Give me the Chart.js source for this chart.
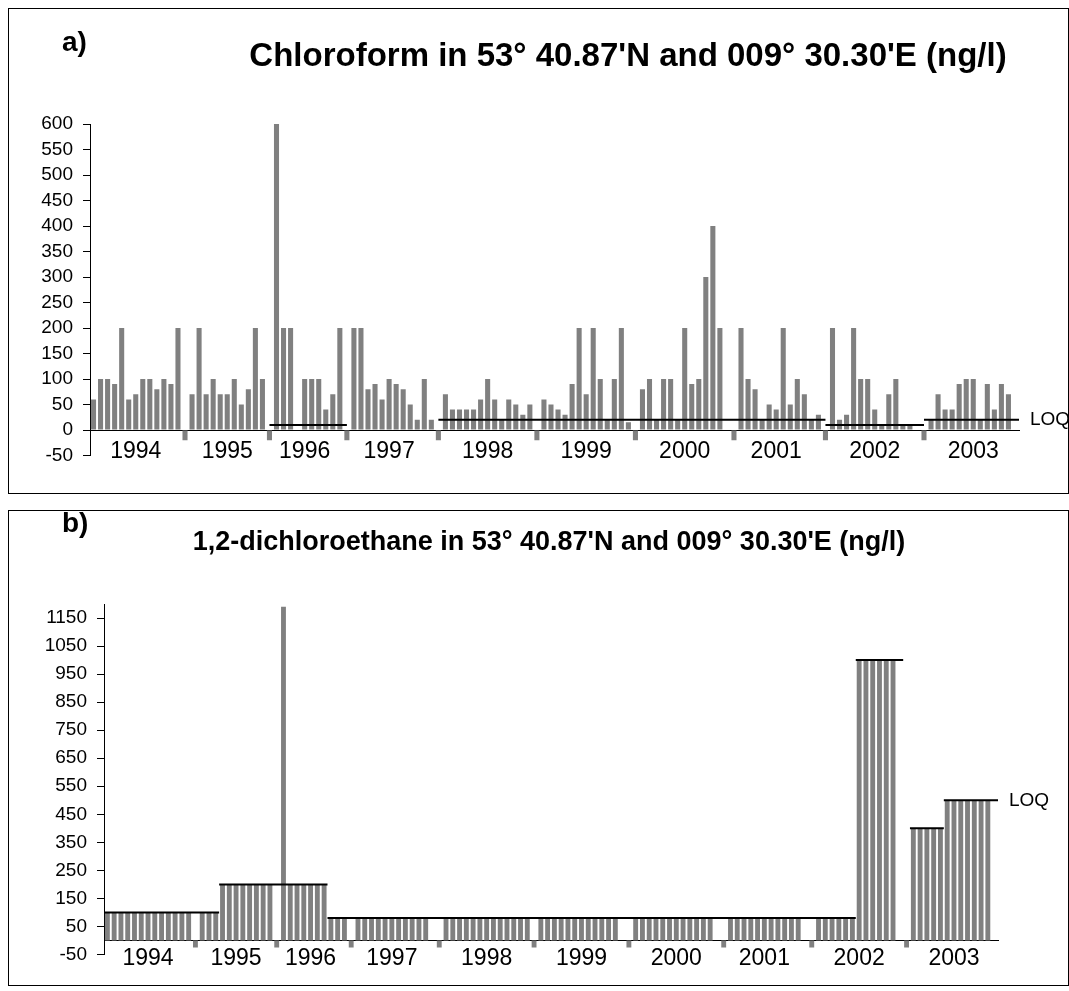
<!DOCTYPE html>
<html>
<head>
<meta charset="utf-8">
<title>Chloroform and 1,2-dichloroethane</title>
<script src="https://cdn.jsdelivr.net/npm/chart.js@4.4.1/dist/chart.umd.min.js"></script>
<style>
  body { margin: 0; background: #fff; font-family: "Liberation Sans", Arial, sans-serif; }
  .box { position: absolute; left: 8px; width: 1061px; border: 1px solid #000; box-sizing: border-box; }
  #boxA { top: 8px; height: 486px; }
  #boxB { top: 510px; height: 476px; }
  .box canvas { position: absolute; left: 0; top: 0; }
  .tag, .title { position: absolute; font-weight: bold; white-space: nowrap; line-height: 1; color: #000; }
  .tag { font-size: 28px; left: 53px; }
  .title { transform: translateX(-50%); }
</style>
</head>
<body>
<div class="box" id="boxA">
  <canvas id="chartA" width="1059" height="484"></canvas>
  <div class="tag" style="top:19px">a)</div>
  <div class="title" style="left:619px; top:29px; font-size:33px">Chloroform in 53° 40.87'N and 009° 30.30'E (ng/l)</div>
</div>
<div class="box" id="boxB">
  <canvas id="chartB" width="1059" height="474"></canvas>
  <div class="tag" style="top:-2px">b)</div>
  <div class="title" style="left:540px; top:17px; font-size:27px">1,2-dichloroethane in 53° 40.87'N and 009° 30.30'E (ng/l)</div>
</div>

<script>
const years = ['1994', '1995', '1996', '1997', '1998', '1999', '2000', '2001', '2002', '2003'];

// chloroform, one value per sample, null = no bar
const chloroform = [
  [60, 100, 100, 90, 200, 60, 70, 100, 100, 80, 100, 90, 200],
  [70, 200, 70, 100, 70, 70, 100, 50, 80, 200, 100],
  [600, 200, 200, null, 100, 100, 100, 40, 70, 200],
  [200, 200, 80, 90, 60, 100, 90, 80, 50, 20, 100, 20],
  [70, 40, 40, 40, 40, 60, 100, 60, 20, 60, 50, 30, 50],
  [60, 50, 40, 30, 90, 200, 70, 200, 100, 20, 100, 200, 15],
  [80, 100, 20, 100, 100, 20, 200, 90, 100, 300, 400, 200, null],
  [200, 100, 80, 20, 50, 40, 200, 50, 100, 70, 20, 30],
  [200, 20, 30, 200, 100, 100, 40, 10, 70, 100, 10, 10, null],
  [20, 70, 40, 40, 90, 100, 100, 20, 90, 40, 90, 70, null]
];
// LOQ for chloroform, one per year
const chloroformLoq = [null, null, 10, null, 20, 20, 20, 20, 10, 20];

const dichloroethane = [
  [100, 100, 100, 100, 100, 100, 100, 100, 100, 100, 100, 100, 100],
  [100, 100, 100, 200, 200, 200, 200, 200, 200, 200, 200],
  [1190, 200, 200, 200, 200, 200, 200, 80, 80, 80],
  [80, 80, 80, 80, 80, 80, 80, 80, 80, 80, 80, null],
  [80, 80, 80, 80, 80, 80, 80, 80, 80, 80, 80, 80, 80],
  [80, 80, 80, 80, 80, 80, 80, 80, 80, 80, 80, 80, null],
  [80, 80, 80, 80, 80, 80, 80, 80, 80, 80, 80, 80, null],
  [80, 80, 80, 80, 80, 80, 80, 80, 80, 80, 80, null],
  [80, 80, 80, 80, 80, 80, 1000, 1000, 1000, 1000, 1000, 1000, null],
  [400, 400, 400, 400, 400, 500, 500, 500, 500, 500, 500, 500, null]
];
// LOQ for 1,2-dichloroethane, one per sample
const dichloroethaneLoq = [
  [100, 100, 100, 100, 100, 100, 100, 100, 100, 100, 100, 100, 100],
  [100, 100, 100, 200, 200, 200, 200, 200, 200, 200, 200],
  [200, 200, 200, 200, 200, 200, 200, 80, 80, 80],
  [80, 80, 80, 80, 80, 80, 80, 80, 80, 80, 80, 80],
  [80, 80, 80, 80, 80, 80, 80, 80, 80, 80, 80, 80, 80],
  [80, 80, 80, 80, 80, 80, 80, 80, 80, 80, 80, 80, 80],
  [80, 80, 80, 80, 80, 80, 80, 80, 80, 80, 80, 80, 80],
  [80, 80, 80, 80, 80, 80, 80, 80, 80, 80, 80, 80],
  [80, 80, 80, 80, 80, 80, 1000, 1000, 1000, 1000, 1000, 1000, 1000],
  [400, 400, 400, 400, 400, 500, 500, 500, 500, 500, 500, 500, 500]
];

const yTicksA = [-50, 0, 50, 100, 150, 200, 250, 300, 350, 400, 450, 500, 550, 600];
const yTicksB = [-50, 50, 150, 250, 350, 450, 550, 650, 750, 850, 950, 1050, 1150];
const yearMarkA = -20;   // small bar below zero between years
const yearMarkB = -25;

const FONT = '"Liberation Sans", Arial, sans-serif';
const GREY = '#808080';

// flatten the per-year lists, one empty slot between years for the year mark
function flatten(groups) {
  const labels = [], values = [], spans = [];
  groups.forEach((g, i) => {
    if (i > 0) { labels.push(''); values.push(null); }
    const start = values.length;
    g.forEach(v => { labels.push(''); values.push(v); });
    spans.push({ start: start, end: values.length - 1 });
  });
  spans.forEach((s, i) => { labels[Math.floor((s.start + s.end) / 2)] = years[i]; });
  return { labels, values, spans };
}

function yearMarks(flat, v) {
  const out = flat.values.map(() => null);
  flat.spans.forEach((s, i) => { if (i > 0) out[s.start - 1] = v; });
  return out;
}

// LOQ per year: line from year mark to year mark
function loqPerYear(flat, loq) {
  const n = flat.values.length, runs = [];
  flat.spans.forEach((s, i) => {
    if (loq[i] == null) return;
    runs.push({
      from: i === 0 ? -0.5 : s.start - 1,
      to: i === flat.spans.length - 1 ? n - 0.5 : s.end + 1,
      value: loq[i]
    });
  });
  return runs;
}

// LOQ per sample: runs of equal values, slot edge to slot edge
function loqPerSample(loqFlat) {
  const runs = [];
  let cur = null, first = null, last = null;
  loqFlat.forEach((v, i) => {
    if (v == null) return;
    if (v !== cur) {
      if (cur != null) runs.push({ from: first - 0.5, to: last + 0.5, value: cur });
      cur = v; first = i;
    }
    last = i;
  });
  if (cur != null) runs.push({ from: first - 0.5, to: last + 0.5, value: cur });
  return runs;
}

// LOQ lines and their label, placed with the chart's own scales
const loqLines = {
  id: 'loqLines',
  afterDatasetsDraw(chart, args, opts) {
    const { ctx, chartArea, scales: { x, y } } = chart;
    ctx.save();
    ctx.strokeStyle = '#000';
    ctx.lineWidth = 2;
    ctx.beginPath();
    opts.runs.forEach(r => {
      const py = y.getPixelForValue(r.value);
      ctx.moveTo(x.getPixelForValue(r.from), py);
      ctx.lineTo(x.getPixelForValue(r.to), py);
    });
    ctx.stroke();
    const lastRun = opts.runs[opts.runs.length - 1];
    ctx.font = '19px ' + FONT;
    ctx.fillStyle = '#000';
    ctx.textBaseline = 'middle';
    ctx.fillText('LOQ', chartArea.right + 11, y.getPixelForValue(lastRun.value));
    ctx.restore();
  }
};

function makeChart(id, flat, marks, runs, yMin, yMax, yTicks, pad, yWidth, labelPad) {
  return new Chart(document.getElementById(id), {
    type: 'bar',
    data: {
      labels: flat.labels,
      datasets: [
        {
          data: flat.values,
          backgroundColor: GREY,
          barPercentage: 0.72,
          categoryPercentage: 1,
          grouped: false
        },
        {
          data: marks,
          backgroundColor: GREY,
          barPercentage: 0.72,
          categoryPercentage: 1,
          grouped: false
        }
      ]
    },
    options: {
      responsive: false,
      animation: false,
      layout: { padding: pad },
      plugins: {
        legend: { display: false },
        tooltip: { enabled: false },
        loqLines: { runs: runs }
      },
      scales: {
        x: {
          position: { y: 0 },
          grid: { display: false, drawTicks: false },
          border: { display: true, color: '#000', width: 1 },
          ticks: {
            autoSkip: false,
            maxRotation: 0,
            minRotation: 0,
            padding: labelPad,
            color: '#000',
            font: { family: FONT, size: 23 }
          }
        },
        y: {
          min: yMin,
          max: yMax,
          afterBuildTicks: (axis) => { axis.ticks = yTicks.map(v => ({ value: v })); },
          afterFit: (axis) => { axis.width = yWidth; },
          grid: { drawOnChartArea: false, drawTicks: true, tickLength: 7, color: '#000' },
          border: { display: true, color: '#000', width: 1 },
          ticks: {
            autoSkip: false,
            padding: 10,
            color: '#000',
            font: { family: FONT, size: 19 },
            callback: (v) => String(v)
          }
        }
      }
    },
    plugins: [loqLines]
  });
}

const flatA = flatten(chloroform);
const flatB = flatten(dichloroethane);
const loqFlatB = flatten(dichloroethaneLoq).values;

makeChart('chartA', flatA, yearMarks(flatA, yearMarkA), loqPerYear(flatA, chloroformLoq),
  -50, 600, yTicksA, { left: 0, right: 49, top: 115, bottom: 37.5 }, 81, 8);

makeChart('chartB', flatB, yearMarks(flatB, yearMarkB), loqPerSample(loqFlatB),
  -50, 1200, yTicksB, { left: 0, right: 70, top: 93, bottom: 30.5 }, 95, 4);
</script>
</body>
</html>
